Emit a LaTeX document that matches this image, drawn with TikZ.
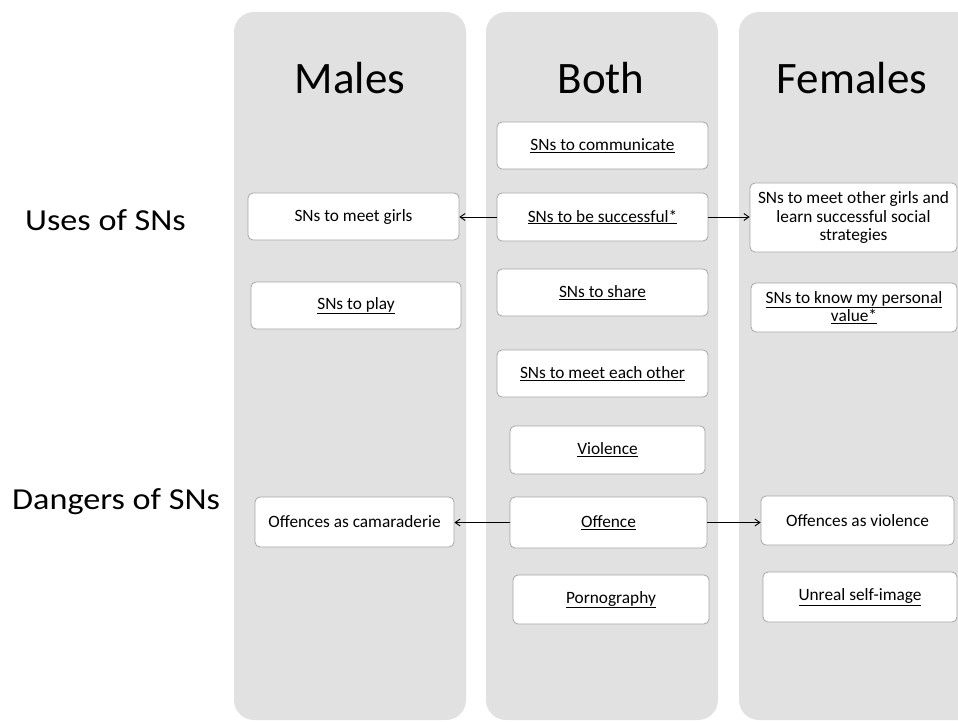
\documentclass[tikz,border=0pt]{standalone}
\usepackage{fontspec}
\setmainfont{Carlito}
\usetikzlibrary{arrows.meta}
\definecolor{panelgray}{HTML}{E1E1E1}
\definecolor{boxline}{HTML}{A6A6A6}
\tikzset{
  panel/.style={fill=panelgray, draw=none, rounded corners=20pt},
  card/.style={draw=boxline, fill=white, rounded corners=5pt, line width=0.8pt,
    align=center, font=\fontsize{17.3}{18.5}\selectfont, inner sep=2pt},
  header/.style={font=\fontsize{45}{50}\selectfont},
  sidelabel/.style={font=\fontsize{30.5}{34}\selectfont, anchor=base west, inner sep=0pt},
  link/.style={-{Straight Barb[length=5pt,width=7pt]}, line width=0.9pt, black},
}
\begin{document}
\begin{tikzpicture}[x=1pt,y=-1pt]
\useasboundingbox (0,0) rectangle (958,722);
\clip (0,0) rectangle (958,722);
% panels
\path[panel] (234,12) rectangle (466,720);
\path[panel] (486,12) rectangle (718,720);
\path[panel] (739,12) rectangle (990,720);
% headers
\node[header] (hm) at (350,78) {Males};
\node[header] (hb) at (601,78) {Both};
\node[header] (hf) at (852,78) {Females};
% side labels
\node[sidelabel] (uses) at (25,230) {\scalebox{1.12}[1]{Uses of SNs}};
\node[sidelabel] (dang) at (12,509) {\scalebox{1.12}[1]{Dangers of SNs}};
% Both column
\node[card, minimum width=211pt, minimum height=47pt] (comm) at (602.5,145.5) {\underline{SNs to communicate}};
\node[card, minimum width=211pt, minimum height=48pt] (succ) at (602.5,217) {\underline{SNs to be successful*}};
\node[card, minimum width=211pt, minimum height=47pt] (share) at (602.5,292.5) {\underline{SNs to share}};
\node[card, minimum width=211pt, minimum height=47pt] (each) at (602.5,373.5) {\underline{SNs to meet each other}};
\node[card, minimum width=195pt, minimum height=48pt] (viol) at (607.5,450) {\underline{Violence}};
\node[card, minimum width=197pt, minimum height=51pt] (off) at (608.5,522.5) {\underline{Offence}};
\node[card, minimum width=196pt, minimum height=49pt] (porn) at (611,599.5) {\underline{Pornography}};
% Males column
\node[card, minimum width=211pt, minimum height=47pt] (girls) at (353.5,216.5) {SNs to meet girls};
\node[card, minimum width=210pt, minimum height=47pt] (play) at (356,305.5) {\underline{SNs to play}};
\node[card, minimum width=199pt, minimum height=50pt] (cam) at (354.5,522) {Offences as camaraderie};
% Females column
\node[card, minimum width=207pt, minimum height=69pt] (other) at (853.5,217.5) {SNs to meet other girls and\\learn successful social\\strategies};
\node[card, minimum width=206pt, minimum height=49pt] (know) at (854,307.5) {\underline{SNs to know my personal}\\\underline{value*}};
\node[card, minimum width=193pt, minimum height=49pt] (offv) at (857.5,520.5) {Offences as violence};
\node[card, minimum width=194pt, minimum height=50pt] (unreal) at (860,597) {\underline{Unreal self-image}};
% connectors
\draw[link] (succ.west) -- (girls.east |- succ.west);
\draw[link] (succ.east) -- (other.west |- succ.east);
\draw[link] (off.west) -- (cam.east |- off.west);
\draw[link] (off.east) -- (offv.west |- off.east);
\end{tikzpicture}
\end{document}
